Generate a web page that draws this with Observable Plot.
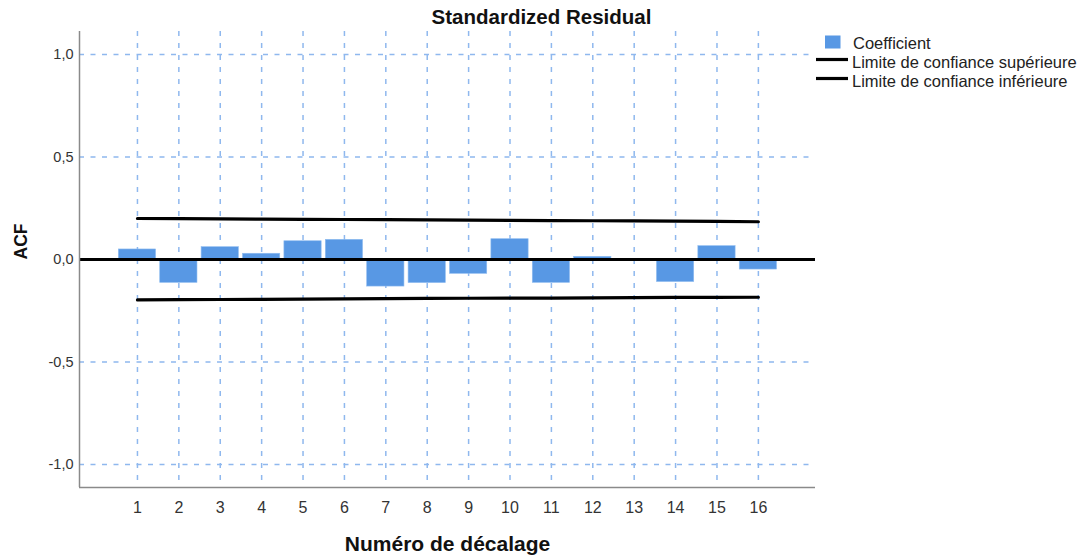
<!DOCTYPE html>
<html>
<head>
<meta charset="utf-8">
<script src="https://cdn.jsdelivr.net/npm/d3@7"></script>
<script src="https://cdn.jsdelivr.net/npm/@observablehq/plot@0.6"></script>
<style>
  html, body { margin: 0; padding: 0; background: #fff; }
  #wrap { position: relative; width: 1082px; height: 557px; font-family: "Liberation Sans", Arial, sans-serif; }
  #legend { position: absolute; left: 0; top: 0; pointer-events: none; }
</style>
</head>
<body>
<div id="wrap"></div>
<script>
// ---- data ----
const title = "Standardized Residual";
const xLabel = "Numéro de décalage";
const yLabel = "ACF";
const lags = [1, 2, 3, 4, 5, 6, 7, 8, 9, 10, 11, 12, 13, 14, 15, 16];
const acf = [0.049, -0.114, 0.060, 0.028, 0.089, 0.096, -0.132, -0.115, -0.070, 0.099, -0.114, 0.013, 0.000, -0.110, 0.065, -0.049];
const upperLimit = [0.200, 0.199, 0.198, 0.197, 0.196, 0.195, 0.194, 0.193, 0.192, 0.191, 0.190, 0.189, 0.188, 0.187, 0.186, 0.184];
const lowerLimit = [-0.197, -0.196, -0.195, -0.194, -0.193, -0.192, -0.191, -0.190, -0.189, -0.188, -0.188, -0.187, -0.186, -0.185, -0.185, -0.184];
const yTicks = [-1, -0.5, 0, 0.5, 1];
const yTickLabels = ["-1,0", "-0,5", "0,0", "0,5", "1,0"];
const legendLabels = ["Coefficient", "Limite de confiance supérieure", "Limite de confiance inférieure"];

// ---- styles ----
const barColor = "#5898e4";
const gridColor = "#8fb8ee";
const axisColor = "#8a8a8a";
const font = "'Liberation Sans', Arial, sans-serif";

const rows = lags.map((lag, i) => ({lag, acf: acf[i], upper: upperLimit[i], lower: lowerLimit[i]}));
const xDomain = [-0.4, 17.38];
const yDomain = [-1.112, 1.112];

const chart = Plot.plot({
  width: 1082,
  height: 557,
  marginLeft: 79,
  marginRight: 267,
  marginTop: 31,
  marginBottom: 70,
  x: {type: "linear", domain: xDomain, axis: null},
  y: {type: "linear", domain: yDomain, axis: null},
  style: {fontFamily: font, fontSize: "14px", color: "#333", background: "#fff", overflow: "visible"},
  marks: [
    Plot.ruleX(lags, {x: d => d, stroke: gridColor, strokeWidth: 1.5, strokeDasharray: "5,7"}),
    Plot.ruleY(yTicks.filter(t => t !== 0), {y: d => d, stroke: gridColor, strokeWidth: 1.5, strokeDasharray: "5,6.5"}),
    Plot.rectY(rows, {x1: d => d.lag - 0.45, x2: d => d.lag + 0.45, y1: 0, y2: "acf", fill: barColor, stroke: "#8fbcf0", strokeWidth: 0.6}),
    Plot.ruleY([0], {stroke: "#000", strokeWidth: 3.2}),
    Plot.line(rows, {x: "lag", y: "upper", stroke: "#000", strokeWidth: 3.2}),
    Plot.line(rows, {x: "lag", y: "lower", stroke: "#000", strokeWidth: 3.2}),
    Plot.ruleX([xDomain[0]], {stroke: axisColor, strokeWidth: 1.5}),
    Plot.ruleY([yDomain[0]], {stroke: axisColor, strokeWidth: 1.5}),
    Plot.text(lags, {x: d => d, text: d => String(d), frameAnchor: "bottom", dy: 20, lineAnchor: "middle", fontSize: 16, fill: "#333"}),
    Plot.text(yTicks, {y: d => d, text: d => yTickLabels[yTicks.indexOf(d)], frameAnchor: "left", dx: -6, textAnchor: "end", lineAnchor: "middle", fontSize: 14.5, fill: "#333"}),
    Plot.text([xLabel], {frameAnchor: "bottom", dy: 57, lineAnchor: "middle", fontSize: 21, fontWeight: "bold", fill: "#111"}),
    Plot.text([yLabel], {frameAnchor: "left", dx: -58, rotate: -90, lineAnchor: "middle", fontSize: 17.5, fontWeight: "bold", fill: "#111"}),
    Plot.text([title], {frameAnchor: "top", dx: 94, dy: -14, lineAnchor: "middle", fontSize: 20.5, fontWeight: "bold", fill: "#111"})
  ]
});

const wrap = document.getElementById("wrap");
wrap.appendChild(chart);

// ---- legend (overlay) ----
const ns = "http://www.w3.org/2000/svg";
const leg = document.createElementNS(ns, "svg");
leg.setAttribute("id", "legend");
leg.setAttribute("width", 1082);
leg.setAttribute("height", 557);
leg.setAttribute("font-family", font);
leg.setAttribute("font-size", "16.5");
function el(tag, attrs, text) {
  const e = document.createElementNS(ns, tag);
  for (const k in attrs) e.setAttribute(k, attrs[k]);
  if (text != null) e.textContent = text;
  leg.appendChild(e);
  return e;
}
el("rect", {x: 825, y: 35.5, width: 15.5, height: 13, fill: barColor});
el("text", {x: 853, y: 48.5, fill: "#222"}, legendLabels[0]);
el("line", {x1: 816, x2: 848, y1: 59.5, y2: 59.5, stroke: "#000", "stroke-width": 3.2});
el("text", {x: 852, y: 67.5, fill: "#222"}, legendLabels[1]);
el("line", {x1: 816, x2: 848, y1: 78.5, y2: 78.5, stroke: "#000", "stroke-width": 3.2});
el("text", {x: 852, y: 87, fill: "#222"}, legendLabels[2]);
wrap.appendChild(leg);
</script>
</body>
</html>
